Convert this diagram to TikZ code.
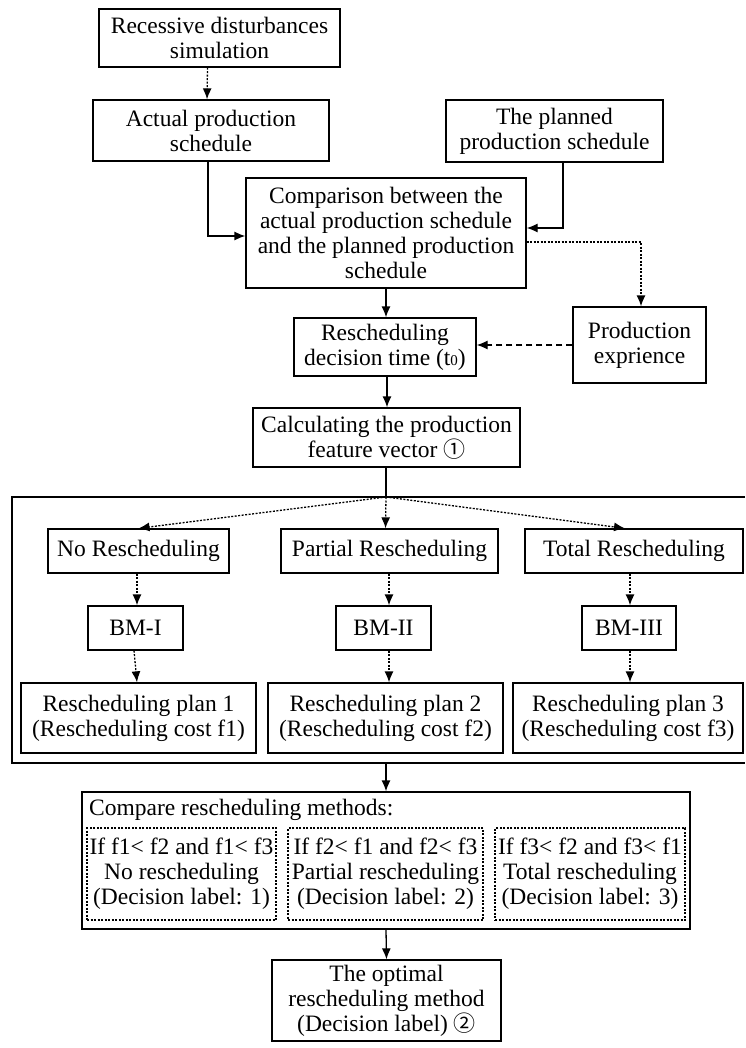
\documentclass[tikz,border=0pt]{standalone}
\usepackage{fontspec}
\setmainfont{Liberation Serif}
\newfontfamily\circfont{Noto Sans CJK SC}
\usetikzlibrary{arrows.meta}

\newcommand{\circnum}[1]{{\circfont\fontsize{22}{22}\selectfont #1}}
\newcommand{\smallsub}[1]{{\fontsize{15}{15}\selectfont #1}}

\begin{document}
\begin{tikzpicture}[x=1pt,y=-1pt,
  every node/.style={font=\fontsize{23.5}{25}\selectfont},
  box/.style={draw, line width=1.3pt, align=center, inner sep=0pt},
  subbox/.style={draw, line width=1.2pt, dash pattern=on 2pt off 1.5pt, align=center, inner sep=0pt},
  arr/.style={line width=1.3pt, -{Latex[length=11pt,width=9pt]}},
  dotarr/.style={line width=1.3pt, dash pattern=on 2pt off 1.5pt, -{Latex[length=11pt,width=9pt]}},
  dasharr/.style={line width=1.3pt, dash pattern=on 6pt off 4pt, -{Latex[length=11pt,width=9pt]}},
  frame/.style={line width=1.3pt}
]
\useasboundingbox (0,0) rectangle (745,1048);

% top part
\node[box, minimum width=241pt, minimum height=58pt] (b1) at (219.5,38)
  {Recessive disturbances\\simulation};
\node[box, minimum width=236pt, minimum height=61pt] (b2) at (211,130.5)
  {Actual production\\schedule};
\node[box, minimum width=217pt, minimum height=62pt] (b3) at (554.5,131)
  {The planned\\production schedule};
\node[box, minimum width=280pt, minimum height=110pt] (b4) at (386,233)
  {Comparison between the\\actual production schedule\\and the planned production\\schedule};
\node[box, minimum width=133pt, minimum height=76pt] (pe) at (639.5,345)
  {Production\\exprience};
\node[box, minimum width=182pt, minimum height=58pt] (rdt) at (385,347)
  {Rescheduling\\decision time (t\smallsub{0})};
\node[box, minimum width=267pt, minimum height=59pt] (calc) at (386.5,437.5)
  {Calculating the production\\feature vector \circnum{①}};

% connectors of the top part
\draw[dotarr] ([xshift=-12pt]b1.south) -- ([xshift=-4pt]b2.north);
\draw[arr] ([xshift=-3pt]b2.south) |- ([yshift=-3pt]b4.west);
\draw[arr] ([xshift=8.5pt]b3.south) |- ([yshift=5pt]b4.east);
\draw[dotarr] ([yshift=-9pt]b4.east) -| ([xshift=1.5pt]pe.north);
\draw[arr] (b4.south) -- (b4.south |- rdt.north);
\draw[dasharr] (pe.west) -- (pe.west -| rdt.east);
\draw[arr] ([xshift=2pt]rdt.south) -- ([xshift=0.5pt]calc.north);

% frame around the three rescheduling branches
\coordinate (ftop) at (386,497);
\coordinate (fbot) at (386,763);
\draw[frame] (745,497) -- (12,497) -- (12,763) -- (745,763);
\draw[frame] ([xshift=-0.5pt]calc.south) -- (ftop);

\node[box, minimum width=181pt, minimum height=44pt] (nr) at (138.5,551) {No Rescheduling};
\node[box, minimum width=217pt, minimum height=44pt] (pr) at (389.5,551) {Partial Rescheduling};
\node[box, minimum width=218pt, minimum height=44pt] (tr) at (634,551) {Total Rescheduling};

\node[box, minimum width=95pt, minimum height=44pt] (bm1) at (135.5,628) {BM-I};
\node[box, minimum width=95pt, minimum height=44pt] (bm2) at (383.5,628) {BM-II};
\node[box, minimum width=94pt, minimum height=44pt] (bm3) at (629,628) {BM-III};

\node[box, minimum width=235pt, minimum height=70pt] (p1) at (138.5,718)
  {Rescheduling plan 1\\(Rescheduling cost f1)};
\node[box, minimum width=235pt, minimum height=70pt] (p2) at (385.5,718)
  {Rescheduling plan 2\\(Rescheduling cost f2)};
\node[box, minimum width=230pt, minimum height=70pt] (p3) at (628,718)
  {Rescheduling plan 3\\(Rescheduling cost f3)};

\draw[dotarr] (ftop) -- (nr.north);
\draw[dotarr] (ftop) -- ([xshift=-4pt]pr.north);
\draw[dotarr] (ftop) -- ([xshift=-9pt]tr.north);

\draw[dotarr] ([xshift=-1.5pt]nr.south) -- ([xshift=1.5pt]bm1.north);
\draw[dotarr] ([xshift=-1.5pt]bm1.south) -- ([xshift=-1.5pt]p1.north);
\draw[dotarr] ([xshift=-0.5pt]pr.south) -- ([xshift=5.5pt]bm2.north);
\draw[dotarr] ([xshift=5.5pt]bm2.south) -- ([xshift=3.5pt]p2.north);
\draw[dotarr] ([xshift=-4pt]tr.south) -- ([xshift=1pt]bm3.north);
\draw[dotarr] ([xshift=1pt]bm3.south) -- ([xshift=2pt]p3.north);

% comparison of the methods
\node[box, minimum width=608pt, minimum height=137pt] (cmp) at (386,860.5) {};
\node[anchor=west, inner sep=0pt] (cmptitle) at (89,810) {Compare rescheduling methods:};
\node[subbox, minimum width=189pt, minimum height=92pt] (s1) at (181.5,874)
  {If f1< f2 and f1< f3\\No rescheduling\\(Decision label: 1)};
\node[subbox, minimum width=195pt, minimum height=92pt] (s2) at (385.5,874)
  {If f2< f1 and f2< f3\\Partial rescheduling\\(Decision label: 2)};
\node[subbox, minimum width=190pt, minimum height=92pt] (s3) at (590,874)
  {If f3< f2 and f3< f1\\Total rescheduling\\(Decision label: 3)};

\node[box, minimum width=229pt, minimum height=81pt] (fin) at (386.5,1000.5)
  {The optimal\\rescheduling method\\(Decision label) \circnum{②}};

\draw[arr] (fbot) -- (cmp.north);
\draw[arr] (cmp.south) -- (fin.north);
\end{tikzpicture}
\end{document}
